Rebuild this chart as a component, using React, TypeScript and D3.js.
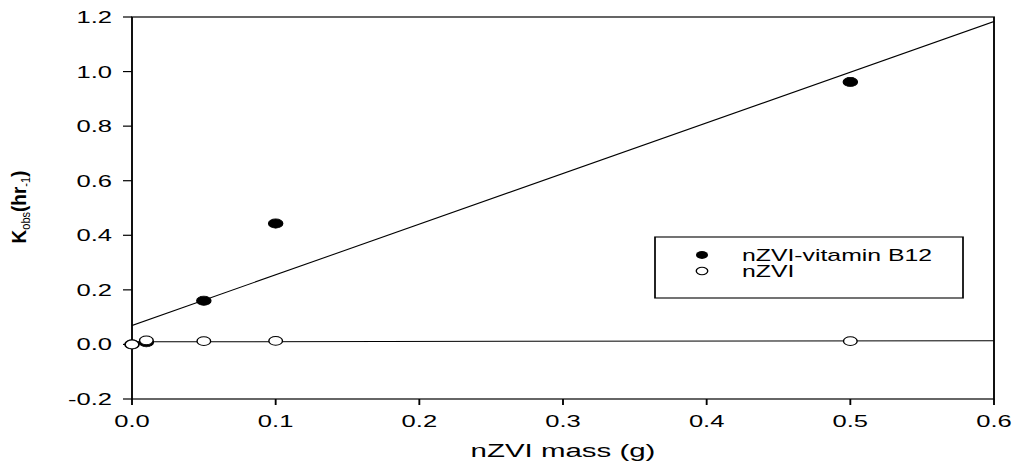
import * as d3 from "d3";

// Data
const massB12 = [0, 0.01, 0.05, 0.1, 0.5];
const kB12 = [0.0, 0.008, 0.16, 0.443, 0.962];
const massNZVI = [0, 0.01, 0.05, 0.1, 0.5];
const kNZVI = [0.0, 0.015, 0.012, 0.013, 0.012];
const xTicks = [0, 0.1, 0.2, 0.3, 0.4, 0.5, 0.6];
const yTicks = [-0.2, 0, 0.2, 0.4, 0.6, 0.8, 1.0, 1.2];
const legendLabels = ["nZVI-vitamin B12", "nZVI"];

const W = 1012;
const H = 463;
// the original export is stretched sideways, so draw in a narrower viewBox
const SX = 1.55;
const VBW = W / SX;
const X = (px: number) => px / SX;
const FONT = "'Liberation Sans', Arial, Helvetica, sans-serif";

function linearFit(xs: number[], ys: number[]) {
  const mx = d3.mean(xs) as number;
  const my = d3.mean(ys) as number;
  let sxy = 0;
  let sxx = 0;
  xs.forEach((x, i) => {
    sxy += (x - mx) * (ys[i] - my);
    sxx += (x - mx) ** 2;
  });
  const slope = sxy / sxx;
  return { slope, intercept: my - slope * mx };
}

export default function App() {
  const x = d3.scaleLinear().domain([0, 0.6]).range([X(132), X(994)]);
  const y = d3.scaleLinear().domain([-0.2, 1.2]).range([399, 17]);
  const [x0, x1] = x.range();
  const [yb, yt] = y.range();

  // least-squares line through each series, across the whole x domain
  const fitPath = (xs: number[], ys: number[]) => {
    const f = linearFit(xs, ys);
    return d3
      .line<number>()
      .x((d) => x(d))
      .y((d) => y(f.intercept + f.slope * d))(x.domain()) as string;
  };

  // plain hyphen for negatives, like the original
  const fmt = (v: number) => (Math.abs(v) < 1e-9 ? 0 : v).toFixed(1);

  return (
    <svg
      width={W}
      height={H}
      viewBox={`0 0 ${VBW} ${H}`}
      preserveAspectRatio="none"
      style={{ position: "absolute", left: 0, top: 0, background: "#fff" }}
      fontFamily={FONT}
    >
      {/* frame */}
      <rect x={x0} y={yt} width={x1 - x0} height={yb - yt} fill="none" stroke="#000" strokeWidth={1.2} />

      {/* y ticks */}
      {yTicks.map((t) => (
        <g key={"y" + t}>
          <line x1={x0 - X(9)} x2={x0} y1={y(t)} y2={y(t)} stroke="#000" strokeWidth={1.2} />
          <text x={X(112)} y={y(t) + 6} textAnchor="end" fontSize={16.5} fill="#000">
            {fmt(t)}
          </text>
        </g>
      ))}

      {/* x ticks */}
      {xTicks.map((t) => (
        <g key={"x" + t}>
          <line x1={x(t)} x2={x(t)} y1={yb} y2={yb + 6} stroke="#000" strokeWidth={1.2} />
          <text x={x(t)} y={427} textAnchor="middle" fontSize={16.5} fill="#000">
            {fmt(t)}
          </text>
        </g>
      ))}

      {/* axis titles */}
      <text x={(x0 + x1) / 2} y={457} textAnchor="middle" fontSize={19} fill="#000">
        nZVI mass (g)
      </text>
      <g transform={`translate(${X(26)},207) scale(${1.1 / SX},1) rotate(-90)`}>
        <text textAnchor="middle" fontSize={19} fontWeight="bold" fill="#000">
          K
          <tspan fontSize={11} fontWeight="normal" dy={4}>obs</tspan>
          <tspan fontSize={19} dy={-4}>(hr</tspan>
          <tspan fontSize={11} fontWeight="normal" dy={4}>-1</tspan>
          <tspan fontSize={19} dy={-4}>)</tspan>
        </text>
      </g>

      {/* regression lines */}
      <path d={fitPath(massB12, kB12)} fill="none" stroke="#000" strokeWidth={1} />
      <path d={fitPath(massNZVI, kNZVI)} fill="none" stroke="#000" strokeWidth={1} />

      {/* points */}
      {massB12.map((m, i) => (
        <circle key={"b" + i} cx={x(m)} cy={y(kB12[i])} r={4.6} fill="#000" stroke="#000" strokeWidth={0.8} />
      ))}
      {massNZVI.map((m, i) => (
        <circle key={"n" + i} cx={x(m)} cy={y(kNZVI[i])} r={4.4} fill="#fff" stroke="#000" strokeWidth={0.9} />
      ))}

      {/* legend */}
      <rect x={X(655)} y={237} width={X(963) - X(655)} height={61} fill="#fff" stroke="#000" strokeWidth={1.1} />
      <circle cx={X(702)} cy={255} r={3.9} fill="#000" />
      <circle cx={X(702)} cy={271} r={3.7} fill="#fff" stroke="#000" strokeWidth={0.9} />
      <text x={X(742)} y={261} fontSize={16} fill="#000">
        {legendLabels[0]}
      </text>
      <text x={X(742)} y={277} fontSize={16} fill="#000">
        {legendLabels[1]}
      </text>
    </svg>
  );
}
